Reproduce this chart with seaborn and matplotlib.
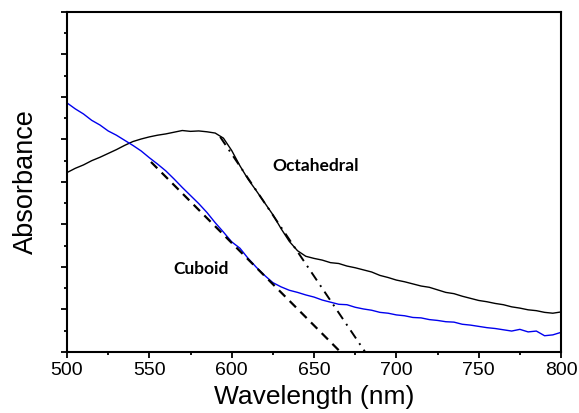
# Espectros de absorbancia: nanocristales octaédricos y cúbicos
import numpy as np
import pandas as pd
import matplotlib
matplotlib.use('Agg')
import matplotlib.pyplot as plt
from matplotlib.ticker import MultipleLocator, NullFormatter
import seaborn as sns

# Datos (cada 5 nm)
wavelength = list(range(500, 805, 5))

cuboid = [5.86, 5.72, 5.60, 5.45, 5.34, 5.20, 5.10, 4.98, 4.86, 4.73,
          4.57, 4.42, 4.26, 4.07, 3.87, 3.68, 3.49, 3.28, 3.04, 2.82,
          2.59, 2.44, 2.20, 1.99, 1.80, 1.63, 1.53, 1.45, 1.40, 1.34,
          1.29, 1.22, 1.17, 1.12, 1.11, 1.05, 1.01, 0.98, 0.93, 0.91,
          0.87, 0.85, 0.81, 0.80, 0.76, 0.74, 0.71, 0.70, 0.65, 0.63,
          0.60, 0.57, 0.55, 0.52, 0.49, 0.53, 0.47, 0.49, 0.38, 0.40,
          0.46]

octahedral = [4.22, 4.32, 4.40, 4.50, 4.58, 4.67, 4.76, 4.86, 4.95, 5.01,
              5.06, 5.10, 5.13, 5.17, 5.21, 5.19, 5.20, 5.18, 5.15, 5.03,
              4.74, 4.38, 4.06, 3.79, 3.51, 3.23, 2.90, 2.60, 2.38, 2.25,
              2.20, 2.16, 2.10, 2.08, 2.02, 1.98, 1.93, 1.88, 1.80, 1.75,
              1.69, 1.65, 1.60, 1.55, 1.52, 1.46, 1.40, 1.37, 1.31, 1.26,
              1.21, 1.18, 1.14, 1.11, 1.06, 1.03, 0.99, 0.97, 0.93, 0.91,
              0.94]

# Tangentes para estimar el borde de absorción
cuboid_tan_x = [551, 666]
cuboid_tan_y = [4.47, 0.0]
octa_tan_x = [593, 681]
octa_tan_y = [5.06, 0.0]

df = pd.DataFrame({'Wavelength': wavelength, 'Cuboid': cuboid, 'Octahedral': octahedral})

sns.set_style('ticks')
plt.rcParams['font.family'] = ['Liberation Sans', 'DejaVu Sans']
plt.rcParams.update({'text.color': 'black', 'axes.labelcolor': 'black',
                     'xtick.color': 'black', 'ytick.color': 'black'})

fig, ax = plt.subplots(figsize=(5.79, 4.13), dpi=100)
fig.subplots_adjust(left=0.1157, right=0.969, top=0.971, bottom=0.148)

sns.lineplot(data=df, x='Wavelength', y='Octahedral', color='black', lw=1.0, ax=ax)
sns.lineplot(data=df, x='Wavelength', y='Cuboid', color='#0000ee', lw=1.0, ax=ax)

ax.plot(cuboid_tan_x, cuboid_tan_y, color='black', lw=1.6, linestyle=(0, (4, 2.8)))
ax.plot(octa_tan_x, octa_tan_y, color='black', lw=1.4, linestyle=(0, (5, 3, 1, 3)))

ax.text(651, 4.38, 'Octahedral', fontsize=12.5, fontweight='bold', family='Lato',
        ha='center', va='center', color='black')
ax.text(581.5, 1.95, 'Cuboid', fontsize=12.5, fontweight='bold', family='Lato',
        ha='center', va='center', color='black')

ax.set_xlim(500, 800)
ax.set_ylim(0, 8)
ax.xaxis.set_major_locator(MultipleLocator(50))
ax.xaxis.set_minor_locator(MultipleLocator(25))
ax.yaxis.set_major_locator(MultipleLocator(1))
ax.yaxis.set_minor_locator(MultipleLocator(0.5))
ax.yaxis.set_major_formatter(NullFormatter())

ax.tick_params(which='major', length=4, width=1.3, labelsize=14, color='black')
ax.tick_params(which='minor', length=2.5, width=1.3, color='black')
for s in ax.spines.values():
    s.set_linewidth(1.5)
    s.set_color('black')

ax.set_xlabel('Wavelength (nm)', fontsize=19, labelpad=4)
ax.set_ylabel('Absorbance', fontsize=19.5, labelpad=13)

fig.savefig('out.png', dpi=100)
